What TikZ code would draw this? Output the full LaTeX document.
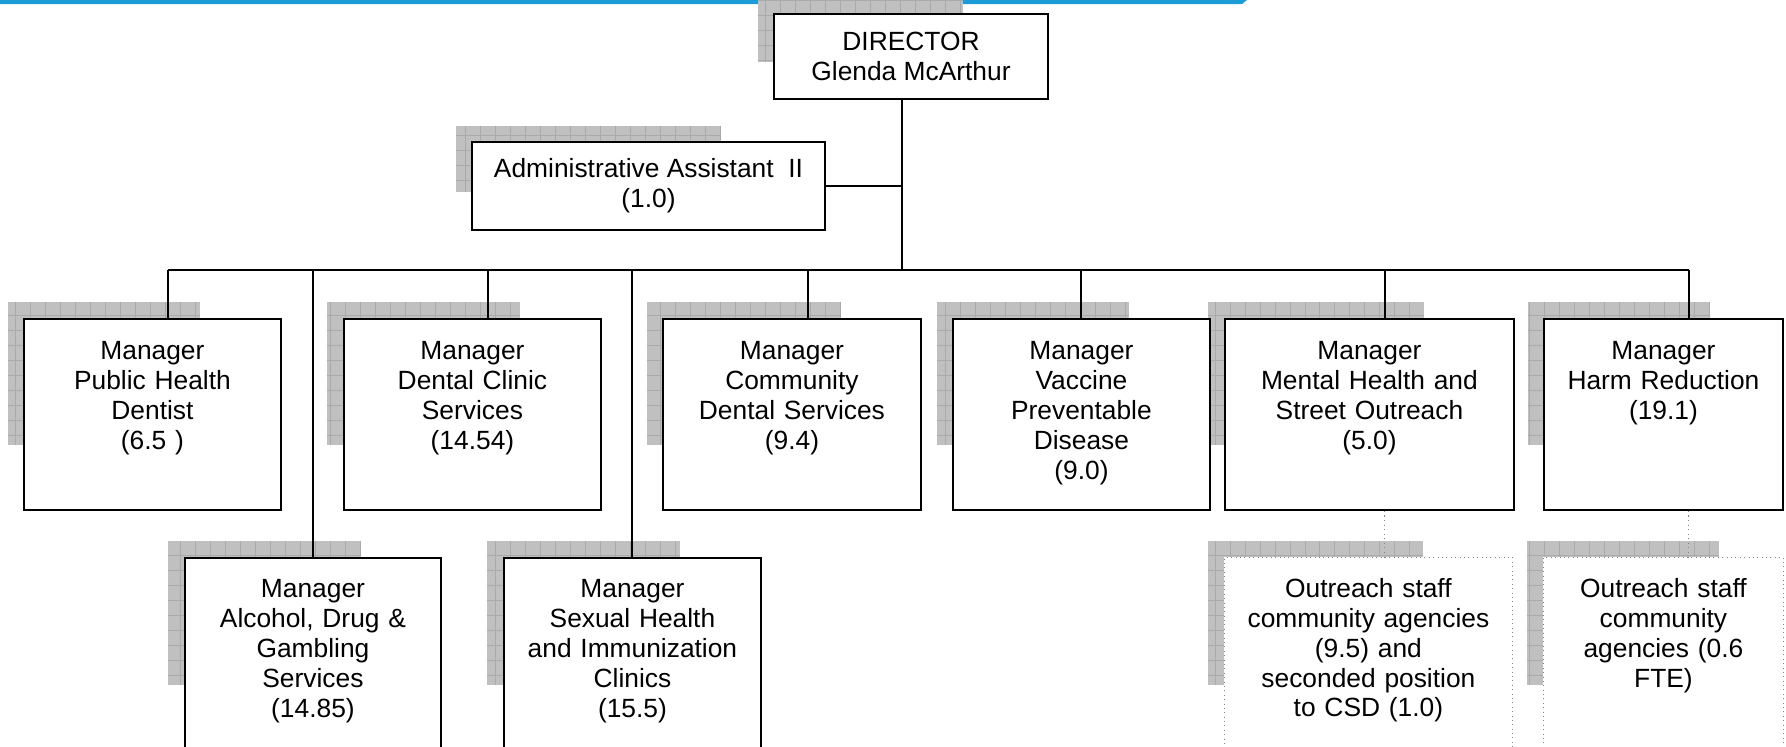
\documentclass[tikz,border=0pt]{standalone}
\usepackage{fontspec}
\setmainfont{Liberation Sans}
\definecolor{topblue}{RGB}{28,156,214}
\definecolor{shadefill}{RGB}{192,192,192}
\definecolor{shadeline}{RGB}{170,170,170}
\tikzset{
  orgfont/.style={font=\fontsize{15}{17}\selectfont},
  mainbox/.style={draw, line width=1.1pt, fill=white, orgfont, align=center, inner sep=0pt},
  topbox/.style={mainbox, anchor=north west, text width=#1, text height=0.82cm, text depth=3.0cm},
  lowbox/.style={mainbox, anchor=north west, text width=#1, text height=0.8cm, text depth=4cm},
  outbox/.style={lowbox=#1, draw=gray, line width=0.5pt, dotted},
  link/.style={line width=1.1pt},
  dotlink/.style={gray, line width=0.6pt, dotted},
}
\begin{document}
\begin{tikzpicture}[x=0.02cm,y=-0.02cm]
\useasboundingbox (0,0) rectangle (1786,747);
\clip (0,0) rectangle (1786,747);
\fill[topblue] (0,0) -- (1247,0) -- (1242,4) -- (0,4) -- cycle;
% grey grid shadows behind the boxes
\foreach \a/\b/\c/\d in {758/-10/963/62, 456/126/720/192,
  8/302/200/445, 327/302/520/445, 647/302/840/445, 937/302/1129/445, 1208/302/1424/445, 1528/302/1710/445,
  168/541/361/685, 487/541/680/685, 1208/541/1423/685, 1527/541/1719/685}{
  \fill[shadefill] (\a,\b) rectangle (\c,\d);
  \draw[shadeline, line width=0.3pt, step=0.3cm] (\a,\d) grid (\c,\b);
}
\node[mainbox, minimum width=5.48cm, minimum height=1.7cm] (dir) at (911,56.5) {DIRECTOR\\Glenda McArthur};
\node[mainbox, minimum width=7.06cm, minimum height=1.76cm] (admin) at (648.5,186) {Administrative Assistant\ \ II\\(1.0)};
\node[topbox=5.14cm] (m1) at (23,318) {Manager\\Public Health\\Dentist\\(6.5 )};
\node[topbox=5.14cm] (m2) at (343,318) {Manager\\Dental Clinic\\Services\\(14.54)};
\node[topbox=5.16cm] (m3) at (662,318) {Manager\\Community\\Dental Services\\(9.4)};
\node[topbox=5.14cm] (m4) at (952,318) {Manager\\Vaccine\\Preventable\\Disease\\(9.0)};
\node[topbox=5.78cm] (m5) at (1224,318) {Manager\\Mental Health and\\Street Outreach\\(5.0)};
\node[topbox=4.78cm] (m6) at (1543,318) {Manager\\Harm Reduction\\(19.1)};
\node[lowbox=5.12cm] (alc) at (184,557) {Manager\\Alcohol, Drug \&\\Gambling\\Services\\(14.85)};
\node[lowbox=5.14cm] (sex) at (503,557) {Manager\\Sexual Health\\and Immunization\\Clinics\\(15.5)};
\node[outbox=5.76cm] (out1) at (1224,557) {Outreach staff\\community agencies\\(9.5) and\\seconded position\\to CSD (1.0)};
\node[outbox=4.8cm] (out2) at (1543,557) {Outreach staff\\community\\agencies (0.6\\FTE)};
\coordinate (trunk) at (902,270);
\draw[link] (dir.south -| trunk) -- (trunk);
\draw[link] (admin.east) -- (admin.east -| trunk);
\draw[link] ([xshift=0.31cm]m1.north |- trunk) -- ([xshift=0.51cm]m6.north |- trunk);
\foreach \n/\dx in {m1/0.31, m2/0.31, m3/0.32, m4/0, m5/0.31, m6/0.51}
  \draw[link] ([xshift=\dx cm]\n.north) -- ([xshift=\dx cm]\n.north |- trunk);
\draw[link] (alc.north) -- (alc.north |- trunk);
\draw[link] (sex.north) -- (sex.north |- trunk);
\draw[dotlink] ([xshift=0.31cm]m5.south) -- ([xshift=0.31cm]m5.south |- out1.north);
\draw[dotlink] ([xshift=0.51cm]m6.south) -- ([xshift=0.51cm]m6.south |- out2.north);
\end{tikzpicture}
\end{document}
